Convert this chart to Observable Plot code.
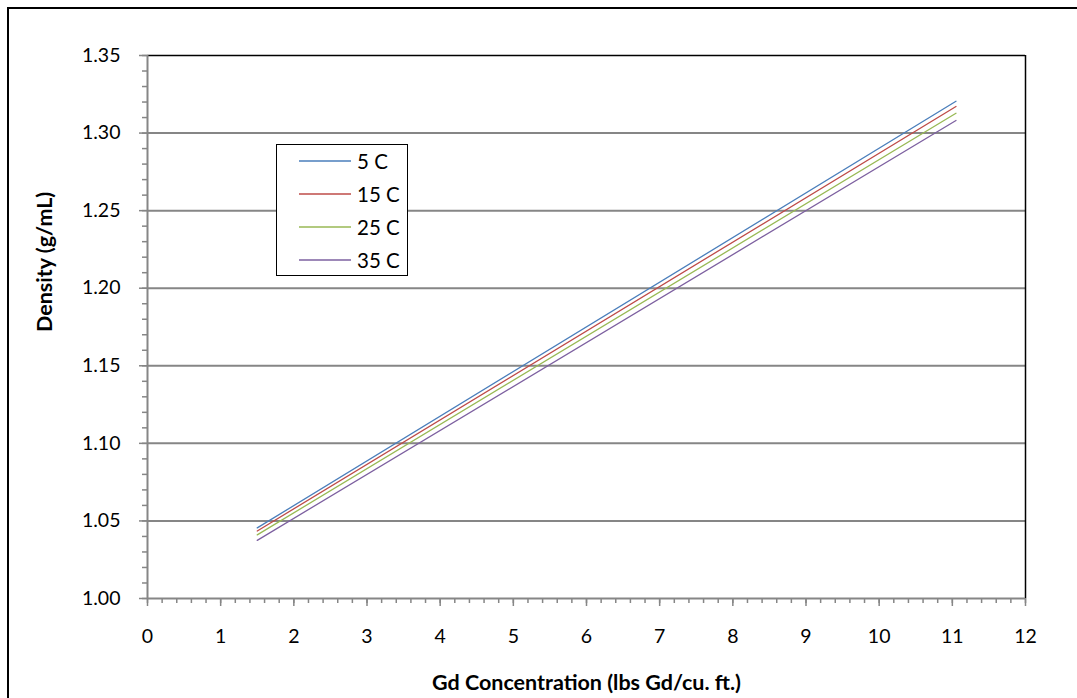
<!DOCTYPE html>
<html>
<head>
<meta charset="utf-8">
<script src="https://cdn.jsdelivr.net/npm/d3@7"></script>
<script src="https://cdn.jsdelivr.net/npm/@observablehq/plot@0.6"></script>
<style>
  html, body { margin: 0; padding: 0; background: #fff; }
  #wrap { position: relative; width: 1077px; height: 698px; overflow: hidden; font-family: Lato, "Open Sans", sans-serif; }
  #frame { position: absolute; left: 7px; top: 7px; width: 1200px; height: 800px; border: 2px solid #000; box-sizing: border-box; pointer-events: none; }
  #legend { position: absolute; left: 276px; top: 144px; width: 132px; height: 132px; border: 1px solid #000; background: #fff; box-sizing: border-box; }
  .row { position: absolute; left: 0; height: 20px; display: flex; align-items: center; font-size: 20.5px; color: #000; }
  .row svg { margin-left: 22px; margin-right: 6px; }
</style>
</head>
<body>
<div id="wrap"><div id="chart"></div><div id="legend"></div><div id="frame"></div></div>
<script>
// Data
const concentration = [1.5, 11.05];            // lbs Gd / cu. ft.
const density5C  = [1.0455, 1.3205];           // g/mL
const density15C = [1.0435, 1.3171];
const density25C = [1.0410, 1.3128];
const density35C = [1.0375, 1.3081];
const seriesNames = ["5 C", "15 C", "25 C", "35 C"];
const seriesColors = ["#4a7ebb", "#be4b48", "#98b954", "#7d60a0"];
const xTicks = d3.range(0, 13, 1);
const yTicks = [1.00, 1.05, 1.10, 1.15, 1.20, 1.25, 1.30, 1.35];

const allSeries = [density5C, density15C, density25C, density35C];
const rows = [];
allSeries.forEach((vals, i) => vals.forEach((v, j) => rows.push({series: seriesNames[i], x: concentration[j], y: v})));

const xMinor = d3.range(0, 60.5, 1).map(d => d / 5);
const yMinor = d3.range(100, 135.5, 1).map(d => d / 100);

const fontFamily = "Lato, 'Open Sans', sans-serif";

const plot = Plot.plot({
  width: 1077,
  height: 698,
  marginLeft: 147,
  marginRight: 52,
  marginTop: 55,
  marginBottom: 100,
  style: {fontFamily, fontSize: "19.5px", color: "#000", background: "transparent"},
  x: {domain: [0, 12], label: null},
  y: {domain: [1.0, 1.35], label: null},
  color: {domain: seriesNames, range: seriesColors},
  marks: [
    Plot.ruleY(yTicks.slice(1, -1), {stroke: "#868686", strokeWidth: 2, strokeOpacity: 1}),
    Plot.ruleX([12], {stroke: "#000", strokeWidth: 1.5}),
    Plot.ruleY([1.35], {stroke: "#000", strokeWidth: 1.5}),
    Plot.axisX(xMinor, {tickSize: 5, tickFormat: null, stroke: "#868686", strokeWidth: 1.5, text: null, label: null}),
    Plot.axisX(xTicks, {tickSize: 8, tickPadding: 23, stroke: "#868686", strokeWidth: 1.5, fill: "#000", fontSize: 19.5, tickFormat: d => String(d), label: null}),
    Plot.axisY(yMinor, {tickSize: 5, tickFormat: null, stroke: "#868686", strokeWidth: 1.5, text: null, label: null}),
    Plot.axisY(yTicks, {tickSize: 8, tickPadding: 19, stroke: "#868686", strokeWidth: 1.5, fill: "#000", fontSize: 19.5, tickFormat: d3.format(".2f"), label: null}),
    Plot.ruleX([0], {stroke: "#868686", strokeWidth: 2}),
    Plot.ruleY([1.0], {stroke: "#868686", strokeWidth: 2}),
    Plot.line(rows, {x: "x", y: "y", z: "series", stroke: "series", strokeWidth: 1.3}),
    Plot.text(["Density (g/mL)"], {frameAnchor: "left", dx: -102, dy: 5, rotate: -90, fontWeight: "bold", fontSize: 21.5, fill: "#000"}),
    Plot.text(["Gd Concentration (lbs Gd/cu. ft.)"], {frameAnchor: "bottom", dy: 91, fontWeight: "bold", fontSize: 21.5, fill: "#000"})
  ]
});
document.getElementById("chart").appendChild(plot);

const legend = document.getElementById("legend");
const rowTops = [6, 39, 72, 105];
seriesNames.forEach((name, i) => {
  const r = document.createElement("div");
  r.className = "row";
  r.style.top = rowTops[i] + "px";
  r.innerHTML = `<svg width="52" height="4"><line x1="0" y1="2" x2="52" y2="2" stroke="${seriesColors[i]}" stroke-width="1.5"/></svg><span>${name}</span>`;
  legend.appendChild(r);
});
</script>
</body>
</html>
